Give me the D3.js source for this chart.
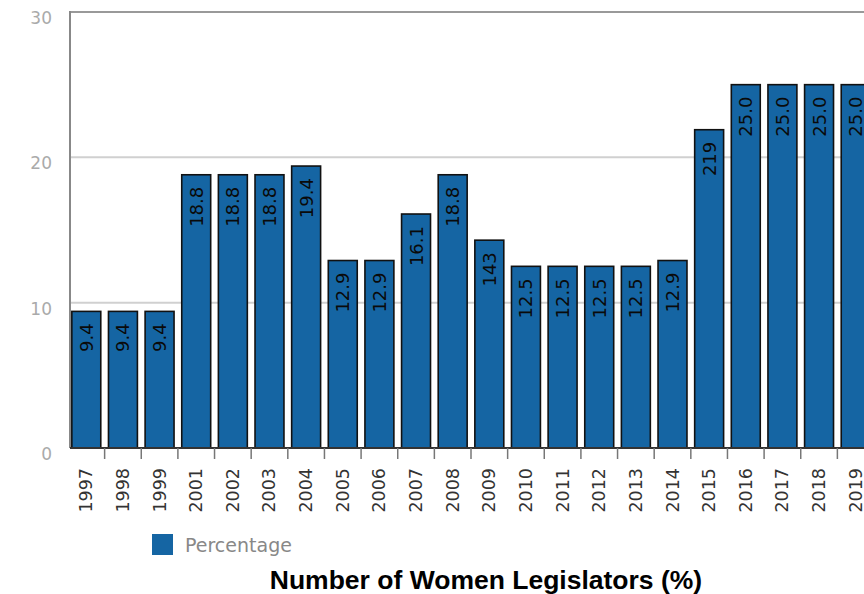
<!DOCTYPE html>
<html>
<head>
<meta charset="utf-8">
<script src="https://cdn.jsdelivr.net/npm/d3@7"></script>
<style>
  body { margin: 0; background: #fff; }
  svg { display: block; }
</style>
</head>
<body>
<svg class="chart" width="864" height="594"></svg>
<script>
var width = 864, height = 594;

// data
var years = ["1997", "1998", "1999", "2001", "2002", "2003", "2004", "2005", "2006", "2007", "2008",
             "2009", "2010", "2011", "2012", "2013", "2014", "2015", "2016", "2017", "2018", "2019"];
var percentage = [9.4, 9.4, 9.4, 18.8, 18.8, 18.8, 19.4, 12.9, 12.9, 16.1, 18.8,
                  14.3, 12.5, 12.5, 12.5, 12.5, 12.9, 21.9, 25.0, 25.0, 25.0, 25.0];
var valueLabels = ["9.4", "9.4", "9.4", "18.8", "18.8", "18.8", "19.4", "12.9", "12.9", "16.1", "18.8",
                   "143", "12.5", "12.5", "12.5", "12.5", "12.9", "219", "25.0", "25.0", "25.0", "25.0"];
var yTicks = [0, 10, 20, 30];

var plotLeft = 70, plotTop = 12, plotBottom = 448;

var x = d3.scaleBand()
    .domain(years)
    .range([plotLeft, 872])
    .paddingInner(0.21)
    .paddingOuter(0.05);

var y = d3.scaleLinear()
    .domain([0, 30])
    .range([plotBottom, plotTop]);

var svg = d3.select(".chart");

// gridlines
svg.append("g")
    .selectAll("line")
    .data(yTicks.filter(d => d > 0 && d < 30))
    .join("line")
        .attr("x1", plotLeft).attr("x2", width)
        .attr("y1", d => y(d)).attr("y2", d => y(d))
        .attr("stroke", "#d0d0d0")
        .attr("stroke-width", 2);

// frame: top + left
svg.append("line")
    .attr("x1", plotLeft).attr("x2", width)
    .attr("y1", y(30)).attr("y2", y(30))
    .attr("stroke", "#999").attr("stroke-width", 2);
svg.append("line")
    .attr("x1", plotLeft).attr("x2", plotLeft)
    .attr("y1", y(30) - 1).attr("y2", plotBottom)
    .attr("stroke", "#888").attr("stroke-width", 2);

// y labels
svg.append("g")
    .attr("font-family", "DejaVu Sans")
    .attr("font-size", 17)
    .attr("fill", "#aaa")
    .attr("text-anchor", "end")
    .selectAll("text")
    .data(yTicks)
    .join("text")
        .attr("x", 52)
        .attr("y", d => y(d) + 12)
        .text(d => d);

// bars
svg.append("g")
    .selectAll("rect")
    .data(percentage)
    .join("rect")
        .attr("x", (d, i) => x(years[i]))
        .attr("y", d => y(d))
        .attr("width", x.bandwidth())
        .attr("height", d => plotBottom - y(d))
        .attr("fill", "#1565a3")
        .attr("stroke", "#111")
        .attr("stroke-width", 1.6);

// value labels inside bars
svg.append("g")
    .attr("font-family", "DejaVu Sans")
    .attr("font-size", 18)
    .attr("fill", "#0a0a0a")
    .attr("text-anchor", "end")
    .selectAll("text")
    .data(percentage)
    .join("text")
        .attr("transform", (d, i) => `translate(${x(years[i]) + x.bandwidth() / 2 + 6.5},${y(d) + 12}) rotate(-90)`)
        .text((d, i) => valueLabels[i]);

// x axis baseline
svg.append("line")
    .attr("x1", plotLeft).attr("x2", width)
    .attr("y1", plotBottom).attr("y2", plotBottom)
    .attr("stroke", "#333").attr("stroke-width", 2);

// ticks between bars
var step = x.step();
svg.append("g")
    .selectAll("line")
    .data(years.slice(1))
    .join("line")
        .attr("x1", d => x(d) - (step - x.bandwidth()) / 2)
        .attr("x2", d => x(d) - (step - x.bandwidth()) / 2)
        .attr("y1", plotBottom).attr("y2", plotBottom + 11)
        .attr("stroke", "#777").attr("stroke-width", 1.5);

// year labels
svg.append("g")
    .attr("font-family", "DejaVu Sans")
    .attr("font-size", 17.5)
    .attr("fill", "#333")
    .attr("text-anchor", "end")
    .selectAll("text")
    .data(years)
    .join("text")
        .attr("transform", d => `translate(${x(d) + x.bandwidth() / 2 + 6},468) rotate(-90)`)
        .text(d => d);

// legend
svg.append("rect")
    .attr("x", 152).attr("y", 534)
    .attr("width", 21).attr("height", 21)
    .attr("fill", "#1565a3");
svg.append("text")
    .attr("x", 185).attr("y", 552)
    .attr("font-family", "DejaVu Sans")
    .attr("font-size", 19)
    .attr("fill", "#888")
    .text("Percentage");

// title
svg.append("text")
    .attr("x", 486).attr("y", 589)
    .attr("text-anchor", "middle")
    .attr("font-family", "Liberation Sans, Arial, sans-serif")
    .attr("font-weight", "bold")
    .attr("font-size", 26.5)
    .attr("fill", "#000")
    .text("Number of Women Legislators (%)");
</script>
</body>
</html>
